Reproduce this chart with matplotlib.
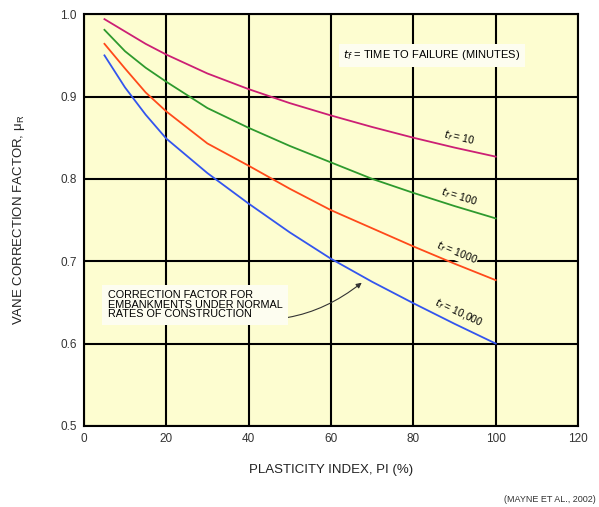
import matplotlib
matplotlib.use("Agg")
import matplotlib.pyplot as plt

plt.rcParams['font.family'] = ['Liberation Sans', 'DejaVu Sans']

# plasticity index values
pi_values = [5, 10, 15, 20, 30, 40, 50, 60, 70, 80, 90, 100]
mu_t10 = [0.994, 0.979, 0.964, 0.951, 0.928, 0.909, 0.892, 0.877, 0.863, 0.850, 0.838, 0.827]
mu_t100 = [0.981, 0.955, 0.935, 0.918, 0.886, 0.862, 0.840, 0.820, 0.800, 0.783, 0.767, 0.752]
mu_t1000 = [0.964, 0.934, 0.905, 0.882, 0.843, 0.816, 0.788, 0.762, 0.740, 0.718, 0.697, 0.677]
mu_t10000 = [0.950, 0.911, 0.878, 0.849, 0.807, 0.770, 0.735, 0.703, 0.675, 0.649, 0.624, 0.600]

curve_labels = ["$t_f$ = 10", "$t_f$ = 100", "$t_f$ = 1000", "$t_f$ = 10,000"]
curve_colors = ["#cc1f74", "#2e9a2e", "#ff4a1a", "#3355ee"]
label_pos = [(91, 0.850, -13), (91, 0.778, -17), (90.5, 0.710, -22), (91, 0.637, -25)]

x_ticks = [0, 20, 40, 60, 80, 100, 120]
y_ticks = [0.5, 0.6, 0.7, 0.8, 0.9, 1.0]

fig = plt.figure(figsize=(5.99, 5.07), dpi=100)
ax = fig.add_axes([0.140, 0.160, 0.825, 0.812])
ax.set_facecolor("#fdfdd0")

for series, color in zip([mu_t10, mu_t100, mu_t1000, mu_t10000], curve_colors):
  ax.plot(pi_values, series, color=color, lw=1.3, zorder=3)

for text, (x, y, rot) in zip(curve_labels, label_pos):
  ax.text(x, y, text, rotation=rot, fontsize=7.5, ha="center", va="center", zorder=4,
          bbox=dict(boxstyle="square,pad=0.05", fc="#fdfdd0", ec="none"))

ax.text(84.5, 0.950, "$t_f$ = TIME TO FAILURE (MINUTES)", fontsize=8, ha="center", va="center",
        zorder=4, bbox=dict(boxstyle="square,pad=0.4", fc="#fdfdf0", ec="none"))

ax.annotate("CORRECTION FACTOR FOR\nEMBANKMENTS UNDER NORMAL\nRATES OF CONSTRUCTION",
            xy=(68, 0.676), xytext=(5.8, 0.647), fontsize=7.8, ha="left", va="center",
            linespacing=0.95, zorder=4,
            bbox=dict(boxstyle="square,pad=0.5", fc="#fdfdf0", ec="none"),
            arrowprops=dict(arrowstyle="-|>", color="#333333", lw=0.8,
                            connectionstyle="arc3,rad=0.3", shrinkA=0, shrinkB=2))

ax.set_xlim(0, 120)
ax.set_ylim(0.5, 1.0)
ax.set_xticks(x_ticks)
ax.set_yticks(y_ticks)
ax.set_yticklabels([f"{v:.1f}" for v in y_ticks])
ax.grid(True, color="black", lw=1.5, zorder=1)
ax.set_axisbelow(True)
ax.tick_params(length=0, labelsize=8.5, colors="#333333", pad=5)
for spine in ax.spines.values():
  spine.set_linewidth(1.5)

ax.set_xlabel("PLASTICITY INDEX, PI (%)", fontsize=9.5, labelpad=14, color="#222222")
ax.set_ylabel("VANE CORRECTION FACTOR, $\\mathregular{\\mu_R}$", fontsize=9.5, labelpad=24, color="#222222")

fig.text(0.995, 0.005, "(MAYNE ET AL., 2002)", fontsize=6.5, ha="right", va="bottom", color="#333333")

fig.savefig("out.png", dpi=100)
